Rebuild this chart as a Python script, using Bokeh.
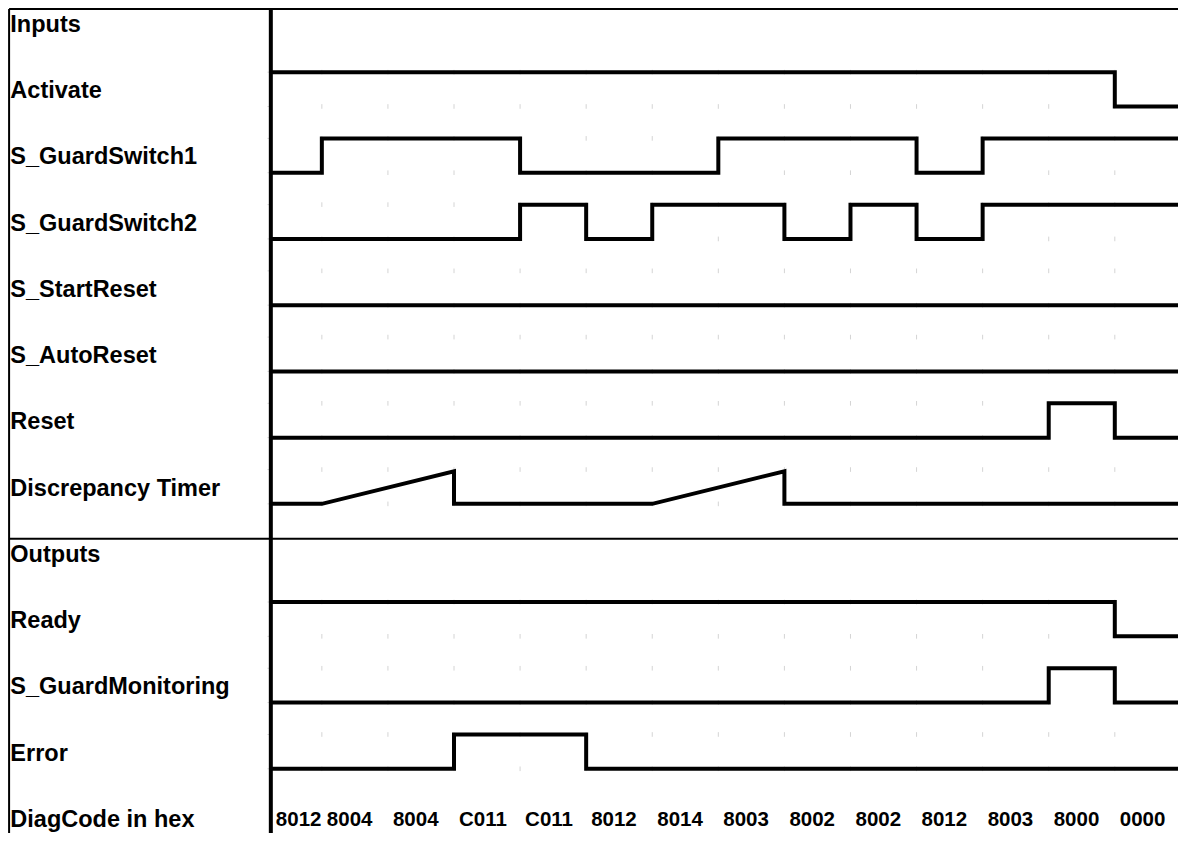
from bokeh.plotting import figure
from bokeh.models import Range1d, ColumnDataSource
from bokeh.core.properties import value
from bokeh.embed import file_html
from bokeh.resources import INLINE

# ---------------- data ----------------
ROW_LABELS = ["Inputs", "Activate", "S_GuardSwitch1", "S_GuardSwitch2", "S_StartReset",
              "S_AutoReset", "Reset", "Discrepancy Timer", "Outputs", "Ready",
              "S_GuardMonitoring", "Error", "DiagCode in hex"]

# 13 grid instants (0..12) separate 14 intervals; one state per interval
GRID_TIMES = list(range(13))
ACTIVATE      = [1, 1, 1, 1, 1, 1, 1, 1, 1, 1, 1, 1, 1, 0]
GUARD_SWITCH1 = [0, 1, 1, 1, 0, 0, 0, 1, 1, 1, 0, 1, 1, 1]
GUARD_SWITCH2 = [0, 0, 0, 0, 1, 0, 1, 1, 0, 1, 0, 1, 1, 1]
START_RESET   = [0, 0, 0, 0, 0, 0, 0, 0, 0, 0, 0, 0, 0, 0]
AUTO_RESET    = [0, 0, 0, 0, 0, 0, 0, 0, 0, 0, 0, 0, 0, 0]
RESET         = [0, 0, 0, 0, 0, 0, 0, 0, 0, 0, 0, 0, 1, 0]
READY         = [1, 1, 1, 1, 1, 1, 1, 1, 1, 1, 1, 1, 1, 0]
GUARD_MONITOR = [0, 0, 0, 0, 0, 0, 0, 0, 0, 0, 0, 0, 1, 0]
ERROR         = [0, 0, 0, 1, 1, 0, 0, 0, 0, 0, 0, 0, 0, 0]
DIAG_CODES = ["8012", "8004", "8004", "C011", "C011", "8012", "8014",
              "8003", "8002", "8002", "8012", "8003", "8000", "0000"]

# discrepancy timer ramps (time, relative value)
DISC_T = [0, 2, 2, 5, 7, 7]
DISC_V = [0, 0.95, 0, 0, 0.95, 0]

# ---------------- layout ----------------
T_START = -0.772     # start of the timing area (thick vertical line)
T_END = 13.3
T_LEFT = -4.733      # left border
LABEL_T = -4.714
AMP = 0.518          # height of a "1" level, in rows
HEAD_OFF = 0.472     # header line above row low line
BASE_OFF = 0.245     # text baseline above row low line
TICK_H = 0.035
TICK_W = 0.05

W, H = 1178, 833
p = figure(width=W, height=H, output_backend="svg", toolbar_location=None,
           x_range=Range1d(-4.863, 12.964), y_range=Range1d(11.977, -0.600),
           min_border=0, x_axis_location=None, y_axis_location=None,
           background_fill_color="white", border_fill_color="white")
p.grid.visible = False
p.outline_line_color = None

bounds = [T_START] + GRID_TIMES + [T_END]

signal_rows = [1, 2, 3, 4, 5, 6, 7, 9, 10, 11]

# faint grid tick marks at each grid instant on both levels of each row
tx0, tx1, ty0, ty1 = [], [], [], []
for row in signal_rows:
    for lvl in (row, row - AMP):
        for t in GRID_TIMES:
            tx0.append(t); tx1.append(t); ty0.append(lvl - TICK_H); ty1.append(lvl + TICK_H)
        tx0.append(T_START - TICK_W); tx1.append(T_START); ty0.append(lvl); ty1.append(lvl)
p.segment(x0=tx0, y0=ty0, x1=tx1, y1=ty1, line_color="#d4d4d4", line_width=1)


def step_line(vals, row):
    xs, ys = [], []
    for i, v in enumerate(vals):
        xs += [bounds[i], bounds[i + 1]]
        ys += [row - v * AMP] * 2
    p.line(xs, ys, line_width=4, line_color="black", line_join="miter")


signals = [(ACTIVATE, 1), (GUARD_SWITCH1, 2), (GUARD_SWITCH2, 3), (START_RESET, 4),
           (AUTO_RESET, 5), (RESET, 6), (READY, 9), (GUARD_MONITOR, 10), (ERROR, 11)]
for vals, row in signals:
    step_line(vals, row)

# discrepancy timer
dx = [T_START] + DISC_T + [T_END]
dy = [7 - v * AMP for v in [0] + DISC_V + [0]]
p.line(dx, dy, line_width=4, line_color="black", line_join="miter")

# frame lines
p.line([T_LEFT, T_END], [0 - HEAD_OFF, 0 - HEAD_OFF], line_width=2, line_color="black")
p.line([T_LEFT, T_END], [8 - HEAD_OFF, 8 - HEAD_OFF], line_width=2, line_color="black")
p.line([T_LEFT, T_LEFT], [0 - HEAD_OFF, 13], line_width=2, line_color="black")
p.line([T_START, T_START], [0 - HEAD_OFF, 13], line_width=4, line_color="black")

# row labels
lab_src = ColumnDataSource(dict(x=[LABEL_T] * len(ROW_LABELS),
                                y=[i - BASE_OFF for i in range(len(ROW_LABELS))],
                                t=ROW_LABELS))
p.text(x="x", y="y", text="t", source=lab_src, text_font=value("Liberation Sans"),
       text_font_style="bold", text_font_size="23.5px", text_color="black",
       text_baseline="alphabetic", text_align="left")

# diag codes
diag_src = ColumnDataSource(dict(x=bounds[:-1], y=[12 - BASE_OFF] * len(DIAG_CODES), t=DIAG_CODES))
p.text(x="x", y="y", text="t", source=diag_src, text_font=value("Liberation Sans"),
       text_font_style="bold", text_font_size="20.5px", text_color="black",
       text_baseline="alphabetic", text_align="left", x_offset=5)

open("out.html", "w").write(file_html(p, INLINE))
